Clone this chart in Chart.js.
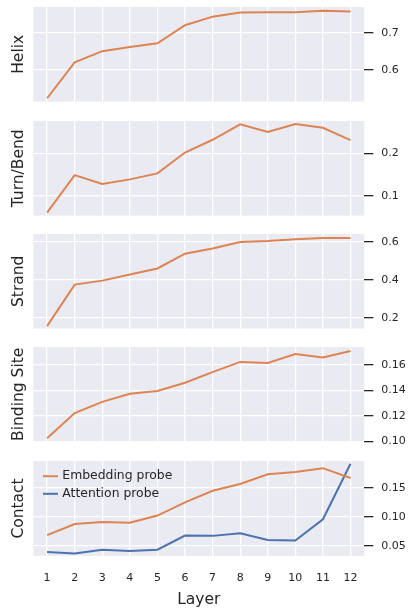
<!DOCTYPE html>
<html>
<head>
<meta charset="utf-8">
<script src="https://cdn.jsdelivr.net/npm/chart.js@4/dist/chart.umd.min.js"></script>
<style>
  html, body { margin: 0; padding: 0; background: #ffffff; }
  #wrap { position: relative; width: 409px; height: 609px; }
  #wrap canvas { position: absolute; left: 0; }
</style>
</head>
<body>
<div id="wrap"></div>
<script>
// Layer numbers on the x axis
const layers = ["1", "2", "3", "4", "5", "6", "7", "8", "9", "10", "11", "12"];

// Embedding probe scores per layer
const helix = [0.524, 0.621, 0.651, 0.662, 0.672, 0.721, 0.744, 0.755, 0.756, 0.756, 0.760, 0.758];
const turnBend = [0.061, 0.149, 0.128, 0.139, 0.153, 0.202, 0.232, 0.268, 0.250, 0.269, 0.260, 0.231];
const strand = [0.156, 0.375, 0.396, 0.428, 0.460, 0.538, 0.566, 0.600, 0.605, 0.614, 0.621, 0.621];
const bindingSite = [0.1026, 0.1223, 0.1310, 0.1373, 0.1396, 0.1460, 0.1543, 0.1623, 0.1615, 0.1685, 0.1657, 0.1709];
const contactEmbedding = [0.0686, 0.0878, 0.0913, 0.0901, 0.1023, 0.1250, 0.1448, 0.1564, 0.1733, 0.1773, 0.1837, 0.1669];
// Attention probe, only for contact
const contactAttention = [0.0395, 0.0372, 0.0436, 0.0413, 0.0436, 0.0680, 0.0674, 0.0720, 0.0605, 0.0593, 0.0959, 0.1913];

// Panel names and y tick steps
const panelNames = ["Helix", "Turn/Bend", "Strand", "Binding Site", "Contact"];
const yMins = [0.515, 0.054, 0.143, 0.0999, 0.033];
const yMaxs = [0.770, 0.276, 0.642, 0.174, 0.196];
const ySteps = [0.1, 0.1, 0.2, 0.02, 0.05];
const yDecimals = [1, 1, 1, 2, 2];
const seriesNames = ["Embedding probe", "Attention probe"];

const ORANGE = "#DD8452";
const BLUE = "#4C72B0";
const TEXT = "#262626";
const BG = "#EAEAF2";

Chart.defaults.font.family = "'DejaVu Sans', sans-serif";
Chart.defaults.color = TEXT;

// panel geometry (plot area top / height)
const panelTops = [6.7, 120.6, 233.9, 347.2, 461.3];
const panelHeight = 94.6;
const plotLeft = 33.3;
const axisWidth = 409 - 364.3;

// fill plot area with seaborn grey
const bgPlugin = {
  id: "plotBg",
  beforeDraw: (chart) => {
    const { ctx, chartArea } = chart;
    ctx.save();
    ctx.fillStyle = BG;
    ctx.fillRect(chartArea.left, chartArea.top, chartArea.right - chartArea.left, chartArea.bottom - chartArea.top);
    ctx.restore();
  },
};

// rotated label on the left side
const sideLabelPlugin = {
  id: "sideLabel",
  afterDraw: (chart, args, opts) => {
    const { ctx, chartArea } = chart;
    ctx.save();
    ctx.translate(22.8, (chartArea.top + chartArea.bottom) / 2);
    ctx.rotate(-Math.PI / 2);
    ctx.font = "15.5px 'DejaVu Sans'";
    ctx.fillStyle = TEXT;
    ctx.textAlign = "center";
    ctx.textBaseline = "alphabetic";
    ctx.fillText(opts.text, 0, 0);
    ctx.restore();
  },
};

// legend drawn inside the plot area (upper left)
const innerLegendPlugin = {
  id: "innerLegend",
  afterDraw: (chart, args, opts) => {
    if (!opts.show) return;
    const { ctx, chartArea } = chart;
    ctx.save();
    ctx.font = "12.4px 'DejaVu Sans'";
    ctx.textBaseline = "middle";
    chart.data.datasets.forEach((ds, i) => {
      const y = chartArea.top + 15.2 + i * 17.6;
      ctx.strokeStyle = ds.borderColor;
      ctx.lineWidth = 2;
      ctx.beginPath();
      ctx.moveTo(chartArea.left + 9.7, y);
      ctx.lineTo(chartArea.left + 24.7, y);
      ctx.stroke();
      ctx.fillStyle = TEXT;
      ctx.fillText(ds.label, chartArea.left + 29, y);
    });
    ctx.restore();
  },
};

function makePanel(i, datasets) {
  const last = i === panelNames.length - 1;
  const canvas = document.createElement("canvas");
  const top = panelTops[i] - 6;
  const height = last ? 609 - top : panelHeight + 12;
  canvas.width = 409;
  canvas.height = Math.round(height);
  canvas.style.top = top + "px";
  document.getElementById("wrap").appendChild(canvas);

  new Chart(canvas.getContext("2d"), {
    type: "line",
    data: { labels: layers, datasets: datasets },
    options: {
      responsive: false,
      animation: false,
      layout: {
        padding: { left: plotLeft, right: 0, top: 6, bottom: last ? 0 : canvas.height - 6 - panelHeight },
      },
      plugins: {
        legend: { display: false },
        tooltip: { enabled: false },
        sideLabel: { text: panelNames[i] },
        innerLegend: { show: last },
      },
      elements: {
        point: { radius: 0 },
        line: { tension: 0, borderWidth: 2 },
      },
      scales: {
        x: {
          type: "category",
          offset: true,
          grid: { offset: false, color: "#ffffff", lineWidth: 1.3, drawTicks: false },
          border: { display: false },
          ticks: { display: last, padding: 16, font: { size: 11 }, maxRotation: 0, autoSkip: false },
          title: { display: last, text: "Layer", font: { size: 15.5 }, padding: { top: 0, bottom: 0 } },
          afterFit: (scale) => {
            scale.height = last ? 609 - top - 6 - panelHeight : 0;
            scale.paddingLeft = 0;
            scale.paddingRight = 0;
          },
        },
        y: {
          position: "right",
          min: yMins[i],
          max: yMaxs[i],
          grid: { color: "#ffffff", lineWidth: 1.3, drawTicks: true, tickLength: 9, tickColor: TEXT, tickWidth: 1.3 },
          border: { display: false },
          ticks: {
            stepSize: ySteps[i],
            includeBounds: false,
            padding: 8,
            font: { size: 11 },
            callback: (v) => Number(v).toFixed(yDecimals[i]),
          },
          afterFit: (scale) => {
            scale.width = axisWidth;
            scale.paddingTop = 0;
            scale.paddingBottom = 0;
          },
        },
      },
    },
    plugins: [bgPlugin, sideLabelPlugin, innerLegendPlugin],
  });
}

makePanel(0, [{ label: seriesNames[0], data: helix, borderColor: ORANGE }]);
makePanel(1, [{ label: seriesNames[0], data: turnBend, borderColor: ORANGE }]);
makePanel(2, [{ label: seriesNames[0], data: strand, borderColor: ORANGE }]);
makePanel(3, [{ label: seriesNames[0], data: bindingSite, borderColor: ORANGE }]);
makePanel(4, [
  { label: seriesNames[0], data: contactEmbedding, borderColor: ORANGE },
  { label: seriesNames[1], data: contactAttention, borderColor: BLUE },
]);
</script>
</body>
</html>
